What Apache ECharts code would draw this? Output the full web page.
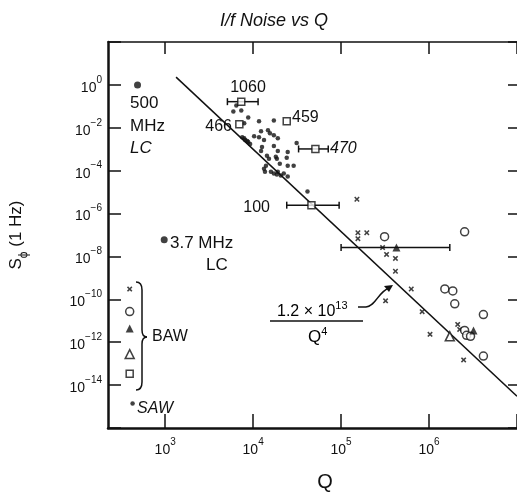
<!DOCTYPE html>
<html><head><meta charset="utf-8">
<script src="https://cdn.jsdelivr.net/npm/echarts@6/dist/echarts.min.js"></script>
<style>html,body{margin:0;padding:0;background:#fff}#c{width:517px;height:497px}</style>
</head><body><div id="c"></div>
<script>
// ---- axis tick exponents ----
const xTickExps = [3, 4, 5, 6, 7];
const xLabelExps = [3, 4, 5, 6];
const yLabelExps = [0, -2, -4, -6, -8, -10, -12, -14];

// ---- data: [Q, S_phi(1 Hz)] ----
const lcPoints = [[485, 1.0], [975, 6.0e-8]];
const sawDots = [
  [6440, 0.108], [5960, 0.0574], [7330, 0.0638], [7920, 0.0161], [8790, 0.0304],
  [11670, 0.0199], [17210, 0.0221], [12300, 6.9e-3], [14750, 7.67e-3], [15530, 5.58e-3],
  [17210, 4.52e-3], [19090, 3.29e-3], [10260, 4.06e-3], [11670, 3.66e-3], [13300, 2.66e-3],
  [7520, 3.66e-3], [7920, 3.29e-3], [8130, 2.66e-3], [8570, 2.39e-3], [8790, 2.15e-3], [9250, 1.74e-3],
  [17210, 1.41e-3], [12620, 1.27e-3], [19090, 8.32e-4], [24730, 7.48e-4], [14360, 4.9e-4],
  [18120, 4.41e-4], [31220, 1.94e-3], [12300, 8.32e-4], [18610, 3.56e-4], [15130, 3.56e-4],
  [24100, 3.96e-4], [13300, 1.24e-4], [14000, 1.7e-4], [15930, 8.99e-5], [19090, 8.99e-5],
  [20640, 5.89e-5], [22300, 7.28e-5], [24730, 5.3e-5], [13640, 8.99e-5], [17210, 7.28e-5],
  [18610, 6.55e-5], [20100, 2.1e-4], [24730, 1.7e-4], [28890, 1.7e-4], [41500, 1.08e-5]
];
const bawCross = [
  [151300, 4.64e-6], [155300, 1.27e-7], [195900, 1.27e-7], [155300, 6.73e-8], [296300, 2.59e-8],
  [328900, 1.24e-8], [415000, 8.09e-9], [415000, 2.04e-9], [627700, 3.04e-10], [320400, 8.53e-11],
  [834800, 2.66e-11], [1026000, 2.33e-12], [2117000, 6.73e-12], [2229000, 3.96e-12], [2473000, 1.49e-13]
];
const bawCircle = [
  [312100, 8.32e-8], [2538000, 1.41e-7], [1512000, 3.04e-10], [1862000, 2.46e-10], [1960000, 6.21e-11],
  [4150000, 1.94e-11], [2538000, 3.56e-12], [2672000, 2.1e-12], [2962000, 1.89e-12], [4150000, 2.27e-13]
];
const bawTriFilled = [[425800, 2.59e-8], [3204000, 3.56e-12]];
const bawTriOpen = [[1722000, 1.89e-12]];
const bawSquare = [[7330, 0.165], [6970, 0.0145], [24100, 0.0199], [51050, 1.03e-3], [46030, 2.46e-6]];
// horizontal error bars: [Q low, Q high, S]
const errorBars = [[5100, 11380, 0.165], [32870, 71450, 1.03e-3], [24100, 95000, 2.46e-6], [100000, 1722000, 2.59e-8]];
// key symbols drawn at the left of the plot
const keyCross = [[395, 3.0e-10]];
const keyCircle = [[395, 2.7e-11]];
const keyTriFilled = [[395, 4.4e-12]];
const keyTriOpen = [[395, 2.8e-13]];
const keySquare = [[395, 3.4e-14]];
const keySaw = [[426, 1.4e-15]];
// fitted line 1.2e13 / Q^4 (end points)
const fitLineQ = [1330, 1e7];
const fitLineS = [2.3, 3.0e-15];

const L = p => [Math.log10(p[0]), Math.log10(p[1])];
const INK = '#111';
const FONT = 'Liberation Sans, Arial, sans-serif';
const crossPath = 'path://M0,2L2,0L5,3L8,0L10,2L7,5L10,8L8,10L5,7L2,10L0,8L3,5Z';

const supFmt = e => '{b|10}{s|' + (e < 0 ? '\u2212' + (-e) : e) + '}';
const richLbl = {
  b: {fontSize: 14, fontFamily: FONT, color: INK, lineHeight: 20, verticalAlign: 'bottom'},
  s: {fontSize: 10, fontFamily: FONT, color: INK, lineHeight: 10, verticalAlign: 'top'}
};

const chart = echarts.init(document.getElementById('c'), null, {renderer: 'canvas'});

function T(text, x, y, o) {
  o = o || {};
  return {type: 'text', x: x, y: y, z: 50, style: {
    text: text, fill: INK, font: (o.italic ? 'italic ' : '') + (o.size || 16) + 'px ' + FONT,
    textAlign: o.align || 'left', textVerticalAlign: 'middle'
  }};
}
const SL = {stroke: INK, lineWidth: 1.5, fill: null};
const Ln = (x1, y1, x2, y2) => ({type: 'line', z: 50, shape: {x1, y1, x2, y2}, style: SL});
const Bz = (x1, y1, cpx1, cpy1, x2, y2, cpx2, cpy2) => ({type: 'bezierCurve', z: 50,
  shape: cpx2 == null ? {x1, y1, cpx1, cpy1, x2, y2} : {x1, y1, cpx1, cpy1, cpx2, cpy2, x2, y2}, style: SL});

const openStyle = {color: '#fff', borderColor: INK, borderWidth: 1.5};

chart.setOption({
  animation: false,
  backgroundColor: '#fff',
  title: {text: 'I/f Noise vs Q', left: 215, top: 7,
    textStyle: {fontStyle: 'italic', fontWeight: 'normal', fontSize: 18, fontFamily: FONT, color: INK}},
  grid: {left: 105, top: 42, width: 415, height: 391, containLabel: false},
  xAxis: [{
    type: 'value', min: 2.35, max: 7, position: 'bottom',
    axisLine: {onZero: false, lineStyle: {color: INK, width: 2.5}},
    axisTick: {inside: true, length: 14, customValues: xTickExps, lineStyle: {color: INK, width: 1.5}},
    axisLabel: {customValues: xLabelExps, margin: 9, formatter: v => supFmt(v), rich: richLbl},
    splitLine: {show: false},
    name: 'Q', nameLocation: 'middle', nameGap: 44,
    nameTextStyle: {fontSize: 20, fontFamily: FONT, color: INK, padding: [0, 0, 0, 25]}
  }, {
    type: 'value', min: 2.35, max: 7, position: 'top',
    axisLine: {onZero: false, lineStyle: {color: INK, width: 1.5}},
    axisTick: {inside: true, length: 12, customValues: xTickExps, lineStyle: {color: INK, width: 1.5}},
    axisLabel: {show: false}, splitLine: {show: false}
  }],
  yAxis: [{
    type: 'value', min: -16, max: 2, interval: 2, position: 'left',
    axisLine: {onZero: false, lineStyle: {color: INK, width: 2.5}},
    axisTick: {inside: true, length: 13, lineStyle: {color: INK, width: 1.5}},
    axisLabel: {margin: 6, formatter: v => yLabelExps.indexOf(v) >= 0 ? supFmt(v) : '', rich: richLbl},
    splitLine: {show: false},
    name: '{a|S}{u|\u03d5}{a| (1 Hz)}', nameLocation: 'middle', nameGap: 78,
    nameTextStyle: {rich: {
      a: {fontSize: 17, fontFamily: FONT, color: INK, lineHeight: 22, verticalAlign: 'top'},
      u: {fontSize: 12, fontFamily: FONT, color: INK, lineHeight: 12, verticalAlign: 'bottom'}
    }}
  }, {
    type: 'value', min: -16, max: 2, interval: 2, position: 'right',
    axisLine: {show: false, onZero: false},
    axisTick: {inside: true, length: 9, lineStyle: {color: INK, width: 1.5}},
    axisLabel: {show: false}, splitLine: {show: false}
  }],
  series: [
    {type: 'line', data: fitLineQ.map((q, i) => L([q, fitLineS[i]])), symbol: 'none',
      lineStyle: {color: INK, width: 1.5}, z: 1},
    {type: 'custom', z: 2,
      data: errorBars.map(e => [Math.log10(e[0]), Math.log10(e[1]), Math.log10(e[2])]),
      encode: {x: [0, 1], y: 2},
      renderItem: (params, api) => {
        const a = api.coord([api.value(0), api.value(2)]);
        const b = api.coord([api.value(1), api.value(2)]);
        const h = 3.5, st = {stroke: INK, lineWidth: 1.5};
        return {type: 'group', children: [
          {type: 'line', shape: {x1: a[0], y1: a[1], x2: b[0], y2: b[1]}, style: st},
          {type: 'line', shape: {x1: a[0], y1: a[1] - h, x2: a[0], y2: a[1] + h}, style: st},
          {type: 'line', shape: {x1: b[0], y1: b[1] - h, x2: b[0], y2: b[1] + h}, style: st}
        ]};
      }},
    {type: 'scatter', name: 'SAW', data: sawDots.concat(keySaw).map(L), symbol: 'circle', symbolSize: 4.5,
      itemStyle: {color: INK}, z: 3},
    {type: 'scatter', name: 'LC', data: lcPoints.map(L), symbol: 'circle', symbolSize: 7,
      itemStyle: {color: INK}, z: 3},
    {type: 'scatter', name: 'BAW x', data: bawCross.concat(keyCross).map(L), symbol: crossPath, symbolSize: 5.5,
      itemStyle: {color: INK}, z: 3},
    {type: 'scatter', name: 'BAW circle', data: bawCircle.concat(keyCircle).map(L), symbol: 'circle', symbolSize: 8,
      itemStyle: openStyle, z: 4},
    {type: 'scatter', name: 'BAW tri', data: bawTriFilled.concat(keyTriFilled).map(L), symbol: 'triangle', symbolSize: 8,
      itemStyle: {color: INK}, z: 4},
    {type: 'scatter', name: 'BAW open tri', data: bawTriOpen.concat(keyTriOpen).map(L), symbol: 'triangle', symbolSize: 9,
      itemStyle: openStyle, z: 4},
    {type: 'scatter', name: 'BAW square', data: bawSquare.concat(keySquare).map(L), symbol: 'rect', symbolSize: 7,
      itemStyle: openStyle, z: 5}
  ],
  graphic: [
    T('1060', 248, 88, {align: 'center'}),
    T('466', 232, 127, {align: 'right'}),
    T('459', 292, 118),
    T('470', 330, 149, {italic: true}),
    T('100', 270, 208, {align: 'right'}),
    T('500', 130, 103, {size: 17}),
    T('MHz', 130, 126, {size: 17}),
    T('LC', 130, 148, {size: 17, italic: true}),
    T('3.7 MHz', 170, 243, {size: 17}),
    T('LC', 206, 265, {size: 17}),
    T('BAW', 152, 337, {size: 16}),
    T('SAW', 137, 409, {size: 16, italic: true}),
    // brace
    Bz(136, 282, 142, 282, 142, 290), Ln(142, 290, 142, 330), Bz(142, 330, 142, 337, 147, 337),
    Bz(147, 337, 142, 337, 142, 344), Ln(142, 344, 142, 382), Bz(142, 382, 142, 390, 136, 390),
    // formula
    {type: 'text', x: 277, y: 310, z: 50, style: {text: '{a|1.2 \u00d7 10}{s|13}', textVerticalAlign: 'middle',
      rich: {a: {fontSize: 16, fontFamily: FONT, color: INK, lineHeight: 20, verticalAlign: 'bottom'},
             s: {fontSize: 11, fontFamily: FONT, color: INK, lineHeight: 11, verticalAlign: 'top'}}}},
    Ln(270, 321, 363, 321),
    {type: 'text', x: 308, y: 336, z: 50, style: {text: '{a|Q}{s|4}', textVerticalAlign: 'middle',
      rich: {a: {fontSize: 17, fontFamily: FONT, color: INK, lineHeight: 20, verticalAlign: 'bottom'},
             s: {fontSize: 11, fontFamily: FONT, color: INK, lineHeight: 11, verticalAlign: 'top'}}}},
    Ln(358, 307, 366, 307),
    Bz(366, 307, 376, 306, 389, 288, 378, 292),
    {type: 'polygon', z: 50, shape: {points: [[393, 285], [384, 286], [389, 292]]}, style: {fill: INK}}
  ]
});
</script></body></html>
